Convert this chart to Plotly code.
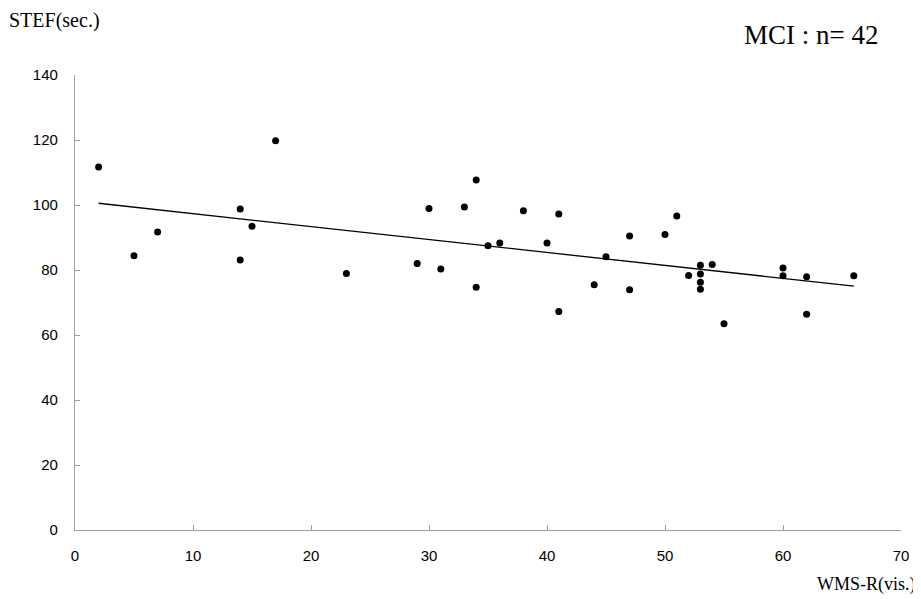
import numpy as np
import plotly.graph_objects as go

wms_r_vis = [2, 5, 7, 14, 14, 15, 17, 23, 29, 30, 31, 33, 34, 34, 35, 36, 38, 40, 41, 41,
             44, 45, 47, 47, 50, 51, 52, 53, 53, 53, 53, 54, 55, 60, 60, 62, 62, 66]
stef_sec = [111.7, 84.4, 91.7, 98.8, 83.1, 93.5, 119.8, 78.9, 82.0, 98.9, 80.3, 99.4, 107.7, 74.7,
            87.5, 88.3, 98.2, 88.3, 97.2, 67.2, 75.5, 84.1, 90.5, 73.9, 90.9, 96.6, 78.3,
            81.5, 78.8, 76.2, 74.1, 81.7, 63.5, 80.6, 78.2, 77.9, 66.4, 78.2]

x_ticks = [0, 10, 20, 30, 40, 50, 60, 70]
y_ticks = [0, 20, 40, 60, 80, 100, 120, 140]

x = np.array(wms_r_vis, dtype=float)
y = np.array(stef_sec, dtype=float)
slope, intercept = np.polyfit(x, y, 1)
fit_x = np.array([x.min(), x.max()])
fit_y = slope * fit_x + intercept

fig = go.Figure()
fig.add_trace(go.Scatter(x=fit_x, y=fit_y, mode="lines",
                         line=dict(color="black", width=1.3), hoverinfo="skip"))
fig.add_trace(go.Scatter(x=wms_r_vis, y=stef_sec, mode="markers",
                         marker=dict(color="black", size=7, line=dict(width=0))))

# page body has an 8px margin; the figure is sized so that it ends at the window edge
PW, PH = 828.5, 455.0
axis_color = "#a0a0a0"
serif = "Liberation Serif, Times New Roman, serif"
fig.update_layout(
    width=913, height=591,
    margin=dict(l=66.5, r=18, t=66.7, b=69.3),
    plot_bgcolor="white", paper_bgcolor="white",
    showlegend=False,
    font=dict(family="Liberation Sans, Arial", color="black"),
    xaxis=dict(range=[0, 70], tickvals=x_ticks, showgrid=False, zeroline=False,
               showline=True, linecolor=axis_color, linewidth=1.2,
               ticks="inside", ticklen=5, tickcolor=axis_color, tickwidth=1,
               tickfont=dict(size=15, family="Liberation Sans, Arial"),
               ticklabelstandoff=12),
    yaxis=dict(range=[0, 140], tickvals=y_ticks, showgrid=False, zeroline=False,
               showline=True, linecolor=axis_color, linewidth=1.2,
               ticks="inside", ticklen=5, tickcolor=axis_color, tickwidth=1,
               tickfont=dict(size=15, family="Liberation Sans, Arial"),
               ticklabelstandoff=13),
    annotations=[
        dict(text="STEF(sec.)", xref="paper", yref="paper",
             x=(6 - 74.5) / PW, y=(529.7 - 20) / PH,
             xanchor="left", yanchor="middle", showarrow=False,
             font=dict(family=serif, size=20, color="black")),
        dict(text="MCI : n= 42", xref="paper", yref="paper",
             x=(883 - 74.5) / PW, y=(529.7 - 35) / PH,
             xanchor="right", yanchor="middle", showarrow=False,
             font=dict(family=serif, size=27, color="black")),
        dict(text="WMS-R(vis.)", xref="paper", yref="paper",
             x=(920 - 74.5) / PW, y=(529.7 - 584) / PH,
             xanchor="right", yanchor="middle", showarrow=False,
             font=dict(family=serif, size=18, color="black")),
    ],
)

fig.write_html("out.html")
